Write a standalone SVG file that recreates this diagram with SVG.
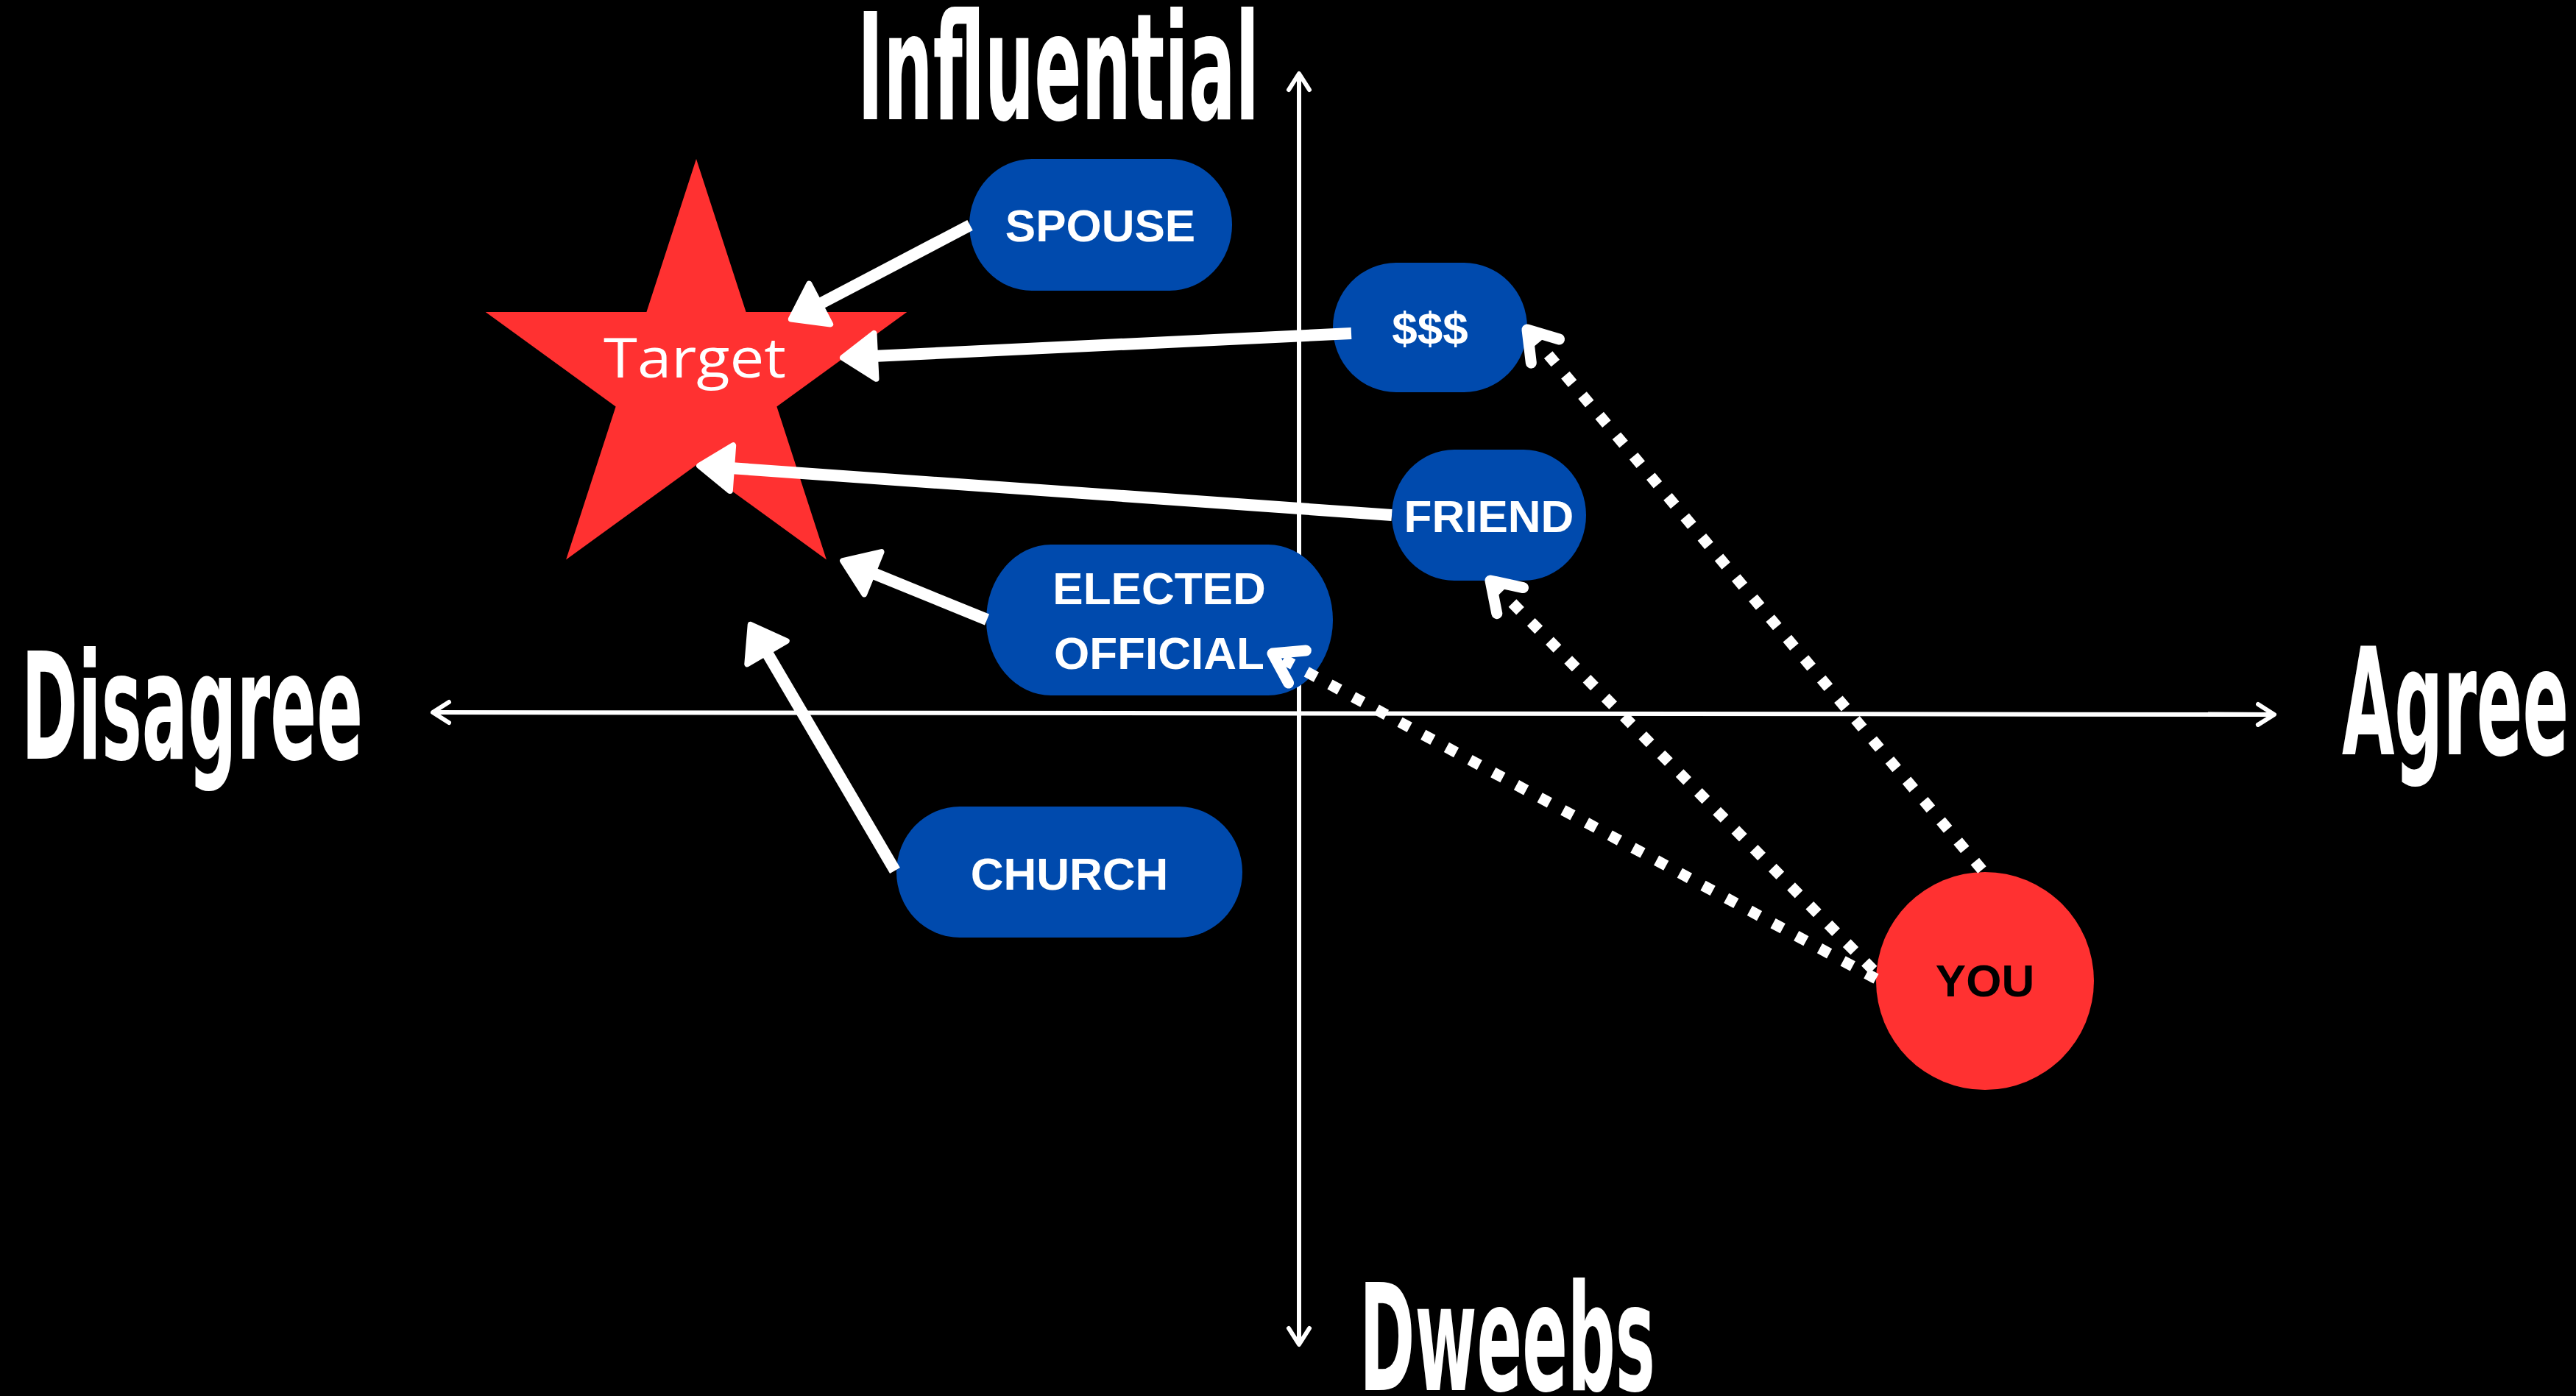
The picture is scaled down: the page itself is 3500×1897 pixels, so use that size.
<svg xmlns="http://www.w3.org/2000/svg" width="3500" height="1897" viewBox="0 0 3500 1897">
<style>
.axis{stroke:#fff;stroke-width:6;fill:none}
.lbl{font-family:"Liberation Sans Narrow","DejaVu Sans Condensed","Liberation Sans",sans-serif;font-weight:bold;font-size:202px;fill:#fff}
.pill{fill:#004AAD}
.nt{font-family:"Liberation Sans",Arial,sans-serif;font-weight:bold;font-size:62px;fill:#fff;text-anchor:middle}
.solid{stroke:#fff;stroke-width:16;fill:none;marker-end:url(#head)}
.dot{stroke:#fff;stroke-width:15;fill:none;stroke-dasharray:15 21;marker-end:url(#chev)}
</style>
<defs>
<marker id="axhead" markerUnits="userSpaceOnUse" orient="auto" refX="0" refY="0" markerWidth="60" markerHeight="60" viewBox="-30 -30 60 60" overflow="visible">
<path d="M-22,-14 L0,0 L-22,14" fill="none" stroke="#fff" stroke-width="6" stroke-linecap="round" stroke-linejoin="round"/>
</marker>
<marker id="head" markerUnits="userSpaceOnUse" orient="auto" refX="0" refY="0" markerWidth="120" markerHeight="120" viewBox="-60 -60 120 120" overflow="visible">
<path d="M-2,-31 L42,0 L-2,31 Z" fill="#fff" stroke="#fff" stroke-width="8" stroke-linejoin="round"/>
</marker>
<marker id="chev" markerUnits="userSpaceOnUse" orient="auto" refX="0" refY="0" markerWidth="120" markerHeight="120" viewBox="-60 -60 120 120" overflow="visible">
<path d="M-38,-25 L0,0 L-38,25" fill="none" stroke="#fff" stroke-width="15" stroke-linecap="round" stroke-linejoin="round"/>
</marker>
</defs>
<rect width="3500" height="1897" fill="#000"/>

<g id="axes">
<line class="axis" x1="3090" y1="971" x2="588" y2="968" marker-end="url(#axhead)"/>
<line class="axis" x1="3000" y1="970.6" x2="3090" y2="971" marker-end="url(#axhead)"/>
<line class="axis" x1="1765" y1="1827" x2="1765" y2="100" marker-end="url(#axhead)"/>
<line class="axis" x1="1765" y1="1700" x2="1765" y2="1827" marker-end="url(#axhead)"/>
<text class="lbl" x="1165" y="162" textLength="546" lengthAdjust="spacingAndGlyphs">Influential</text>
<text class="lbl" x="29" y="1031" textLength="464" lengthAdjust="spacingAndGlyphs">Disagree</text>
<text class="lbl" x="3182" y="1025" textLength="308" lengthAdjust="spacingAndGlyphs">Agree</text>
<text class="lbl" x="1847" y="1889" textLength="402" lengthAdjust="spacingAndGlyphs">Dweebs</text>
</g>

<g id="target">
<polygon fill="#FF3131" points="946,216 1013.6,424 1232.3,424 1055.4,552.5 1122.9,760.5 946,632 769.1,760.5 836.6,552.5 659.7,424 878.4,424"/>
<text x="944" y="513" font-family="'Open Sans','Lato',sans-serif" font-size="75" fill="#fff" text-anchor="middle" textLength="248" lengthAdjust="spacingAndGlyphs">Target</text>
</g>

<g id="spouse">
<rect class="pill" x="1317" y="216" width="357" height="179" rx="85" ry="89.5"/>
<text class="nt" x="1495" y="328">SPOUSE</text>
</g>
<g id="money">
<rect class="pill" x="1811" y="357" width="264" height="176" rx="86" ry="88"/>
<text class="nt" x="1943" y="467">$$$</text>
</g>
<g id="friend">
<rect class="pill" x="1891" y="611" width="264" height="178" rx="85" ry="89"/>
<text class="nt" x="2023" y="723">FRIEND</text>
</g>
<g id="elected">
<rect class="pill" x="1340" y="740" width="471" height="205" rx="88" ry="102.5"/>
<text class="nt" x="1575" y="821">ELECTED</text>
<text class="nt" x="1575" y="909">OFFICIAL</text>
</g>
<g id="church">
<rect class="pill" x="1218" y="1096" width="470" height="178" rx="86" ry="89"/>
<text class="nt" x="1453" y="1209">CHURCH</text>
</g>
<g id="you">
<circle cx="2697" cy="1333" r="148" fill="#FF3131"/>
<text class="nt" x="2697" y="1354" fill="#000" style="fill:#000">YOU</text>
</g>

<g id="connectors">
<path class="solid" d="M1318,306 L1112,414"/>
<path class="solid" d="M1836,453 L1187,484"/>
<path class="solid" d="M1891,700 L992,636"/>
<path class="solid" d="M1341,842 L1184,778"/>
<path class="solid" d="M1216,1183 L1041,885"/>
<path class="dot" d="M2693,1182 L2075,448"/>
<path class="dot" d="M2545,1318 L2025,789"/>
<path class="dot" d="M2549,1330 L1729,888"/>
</g>
</svg>
